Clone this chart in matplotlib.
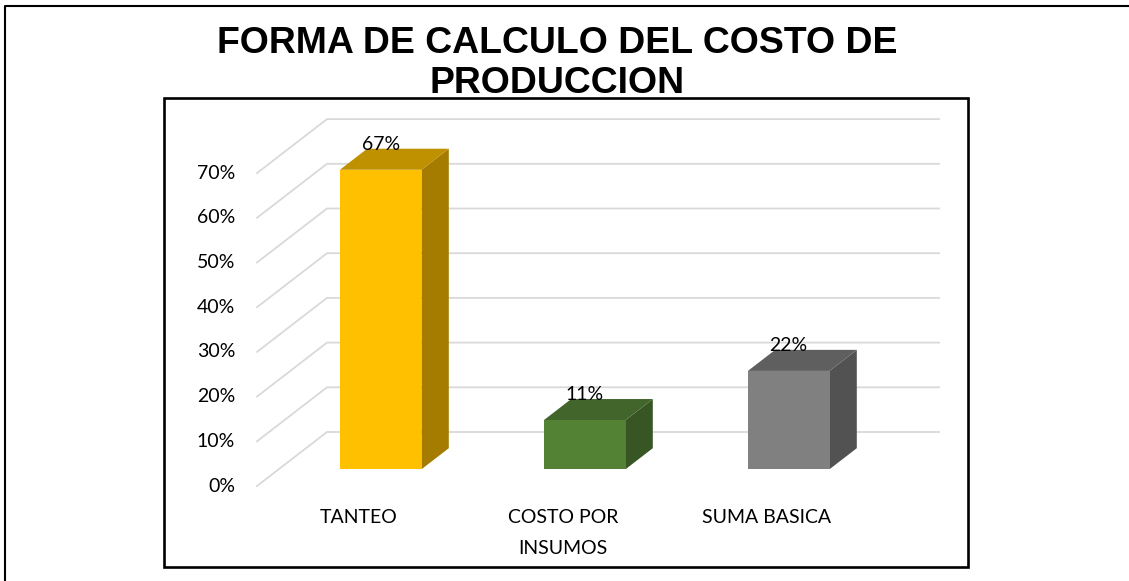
import matplotlib.pyplot as plt
from matplotlib.patches import Polygon, Rectangle

# data
categories = ['TANTEO', 'COSTO POR\nINSUMOS', 'SUMA BASICA']
values = [67, 11, 22]
ticks = [0, 10, 20, 30, 40, 50, 60, 70]
front_colors = ['#FFC000', '#548235', '#808080']
top_colors = ['#BF9000', '#41652A', '#5F5F5F']
side_colors = ['#A67C00', '#375623', '#525252']
title = 'FORMA DE CALCULO DEL COSTO DE\nPRODUCCION'

# 3D-ish projection settings (pixels)
x0, y0 = 257, 486        # front-left corner of the floor at 0%
slot = 204               # width of one category slot
per_pct = 4.47           # px per 1%
depth_dx, depth_dy = 70, -54
bar_w = 0.40             # fraction of slot
d_front, d_back = 0.31, 0.70


def proj(xs, v, d):
    return x0 + xs * slot + depth_dx * d, y0 - v * per_pct + depth_dy * d


fig = plt.figure(figsize=(11.29, 5.81), dpi=100)
ax = fig.add_axes([0, 0, 1, 1])
ax.set_xlim(0, 1129)
ax.set_ylim(581, 0)
ax.axis('off')

plt.rcParams['font.family'] = ['Lato', 'DejaVu Sans']

# outer frame (only top/left visible)
ax.plot([5, 5, 1129], [581, 6, 6], color='black', lw=1.5, solid_capstyle='butt')

# title
ax.text(557, 93, title, ha='center', va='baseline', fontsize=26.9,
        fontweight='bold', family='Liberation Sans', linespacing=1.17)

# chart box
ax.add_patch(Rectangle((164, 98), 804, 469, fill=False, ec='black', lw=1.9, zorder=5))

# gridlines: side wall diagonal + back wall
n = len(categories)
for t in ticks:
    xa, ya = proj(0, t, 0)
    xb, yb = proj(0, t, 1)
    xc, yc = proj(n, t, 1)
    ax.plot([xa, xb, xc], [ya, yb, yc], color='#D9D9D9', lw=1.3, zorder=1)
    ax.text(xa - 22, ya, f'{t}%', ha='right', va='center', fontsize=14, color='#000000')

# bars
for i, (cat, v) in enumerate(zip(categories, values)):
    l = i + 0.5 - bar_w / 2
    r = i + 0.5 + bar_w / 2
    front = [proj(l, 0, d_front), proj(r, 0, d_front), proj(r, v, d_front), proj(l, v, d_front)]
    side = [proj(r, 0, d_front), proj(r, 0, d_back), proj(r, v, d_back), proj(r, v, d_front)]
    top = [proj(l, v, d_front), proj(r, v, d_front), proj(r, v, d_back), proj(l, v, d_back)]
    ax.add_patch(Polygon(side, closed=True, fc=side_colors[i], ec='none', zorder=2))
    ax.add_patch(Polygon(top, closed=True, fc=top_colors[i], ec='none', zorder=2))
    ax.add_patch(Polygon(front, closed=True, fc=front_colors[i], ec='none', zorder=3))
    lx, ly = proj(i + 0.5, v, d_front)
    ax.text(lx, ly - 25.5, f'{v}%', ha='center', va='center', fontsize=14, zorder=4)
    cx, cy = proj(i + 0.5, 0, 0)
    ax.text(cx, cy + 23, cat, ha='center', va='top', fontsize=14, linespacing=2.0)

fig.savefig('out.png', dpi=100)
